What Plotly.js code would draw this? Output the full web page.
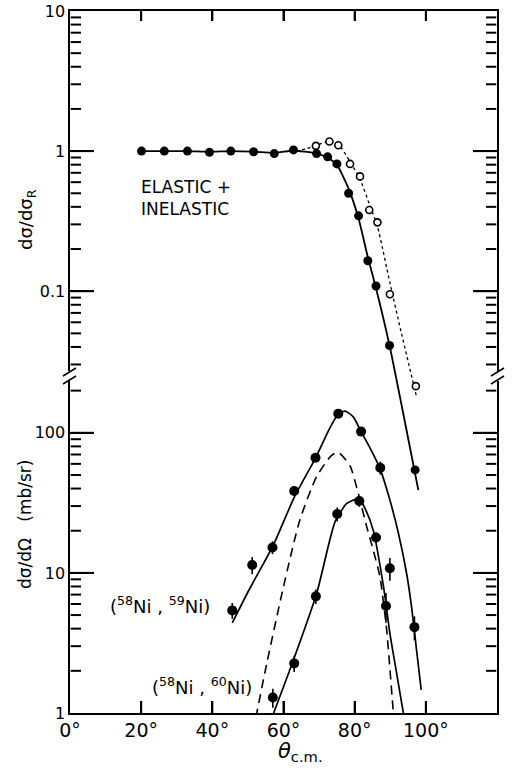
<!DOCTYPE html>
<html>
<head>
<meta charset="utf-8">
<script src="https://cdn.plot.ly/plotly-3.0.1.min.js"></script>
<style>html,body{margin:0;padding:0;background:#fff;}#chart{width:515px;height:769px;}</style>
</head>
<body>
<div id="chart"></div>
<script>
// ---------- data ----------
// Top panel: elastic + inelastic ratio to Rutherford (filled circles, solid curve)
const elasticAngle = [20.1, 26.5, 33.0, 39.2, 45.2, 51.6, 57.4, 62.8, 69.3, 72.4, 75.0, 78.3, 81.1, 83.7, 86.0, 89.8, 97.0];
const elasticRatio = [1.0, 1.0, 1.0, 0.98, 1.0, 0.99, 0.96, 1.02, 0.96, 0.91, 0.81, 0.50, 0.345, 0.165, 0.109, 0.041, 0.0053];
const elasticFitAngle = [20.1, 26.5, 33.0, 39.2, 45.2, 51.6, 57.4, 62.8, 66.0, 69.3, 72.4, 75.0, 78.3, 81.1, 83.7, 86.0, 89.8, 97.9];
const elasticFitRatio = [1.0, 1.0, 1.0, 0.99, 1.0, 0.99, 0.97, 1.01, 0.99, 0.96, 0.90, 0.80, 0.54, 0.33, 0.175, 0.105, 0.041, 0.0038];
// Top panel: open circles with dotted curve
const openAngle = [69.1, 72.9, 75.4, 78.7, 81.5, 84.1, 86.4, 89.9, 97.2];
const openRatio = [1.09, 1.17, 1.10, 0.81, 0.66, 0.38, 0.31, 0.095, 0.021];
const dottedFitAngle = [63.5, 66.5, 69.1, 72.9, 75.4, 78.7, 81.5, 84.1, 86.4, 89.9, 93.0, 97.4];
const dottedFitRatio = [1.00, 1.04, 1.10, 1.17, 1.12, 0.84, 0.63, 0.42, 0.29, 0.115, 0.052, 0.0176];

// Bottom panel: (58Ni,59Ni)
const ni59Angle = [45.6, 51.2, 56.9, 63.0, 69.0, 75.4, 81.8, 87.2, 89.9, 96.8];
const ni59Sigma = [5.4, 11.4, 15.2, 38.4, 66.4, 137, 102, 56.3, 10.8, 4.1];
const ni59Err   = [0.7, 1.6, 1.6, 3, 4, 6, 6, 6, 2.0, 0.8];
const ni59FitAngle = [45.6, 50.6, 57.0, 63.1, 69.0, 73.0, 75.4, 77.3, 79.6, 81.8, 84.3, 87.1, 89.9, 92.3, 94.6, 96.0, 97.4, 98.7];
const ni59FitSigma = [4.4, 7.8, 15.5, 35, 66, 108, 136, 143, 130, 102, 78, 55.7, 33.1, 19.2, 9.9, 5.7, 2.8, 1.46];

// Bottom panel: (58Ni,60Ni)
const ni60Angle = [57.0, 63.0, 69.1, 75.1, 81.3, 86.0, 88.8];
const ni60Sigma = [1.29, 2.26, 6.8, 26.3, 32.6, 17.9, 5.8];
const ni60Err   = [0.2, 0.3, 0.8, 3, 3, 1.5, 1.4];
const ni60FitAngle = [56.9, 62.8, 69.3, 74.5, 77.8, 80.3, 81.5, 83.3, 85.2, 88.1, 89.9, 91.8, 93.7, 94.0];
const ni60FitSigma = [0.95, 2.39, 7.1, 23.2, 31.3, 33.5, 33.1, 27.5, 20.2, 8.0, 3.7, 1.92, 1.0, 0.93];

// Bottom panel: dashed curve
const dashAngle = [52.2, 55.3, 60.0, 64.6, 69.3, 73.5, 75.4, 78.7, 81.0, 83.4, 85.2, 87.1, 89.0, 90.9, 91.1];
const dashSigma = [0.92, 2.26, 7.98, 23.9, 48.6, 69.0, 72.4, 58, 37, 21.3, 14.6, 9.4, 3.9, 1.0, 0.92];

// Axis ticks
const xTickVals = [0, 20, 40, 60, 80, 100, 120];
const xTickText = ['0°', '20°', '40°', '60°', '80°', '100°', '120°'];
const xInnerTicks = [20, 40, 60, 80, 100];
const topMajorTicks = [0.1, 1];
const topMinorTicks = [0.03, 0.04, 0.05, 0.06, 0.07, 0.08, 0.09, 0.2, 0.3, 0.4, 0.5, 0.6, 0.7, 0.8, 0.9, 2, 3, 4, 5, 6, 7, 8, 9];
const botMajorTicks = [10, 100];
const botMinorTicks = [2, 3, 4, 5, 6, 7, 8, 9, 20, 30, 40, 50, 60, 70, 80, 90, 200];

// ---------- layout helpers ----------
const W = 515, H = 769;
const L = 70, R = 497, T = 11, B = 713;
const px = x => (x - L) / (R - L);
const py = y => (B - y) / (B - T);
const FONT = 'DejaVu Sans, Liberation Sans, sans-serif';
const INK = '#000000';

const topBottomPx = 371, botTopPx = 381;
const topDomain = [py(topBottomPx), 1];
const botDomain = [0, py(botTopPx)];
const decadePx = 140.1;
const topRange = [1 - (topBottomPx - T) / decadePx, 1];
const botRange = [0, (B - botTopPx) / decadePx];
const fullRange = [1 - (B - T) / decadePx, 1];
const xRange = [0, 120];
const degPerPx = (xRange[1] - xRange[0]) / (R - L);

// inside tick marks drawn as line segments on the panels' own axes
const tickStyle = {color: INK, width: 2};
function yTickTrace(vals, len, xa, ya) {
  const xs = [], ys = [];
  vals.forEach(v => {
    xs.push(xRange[0] + 0.2, xRange[0] + len * degPerPx, null, xRange[1] - len * degPerPx, xRange[1] - 0.2, null);
    ys.push(v, v, null, v, v, null);
  });
  return {x: xs, y: ys, xaxis: xa, yaxis: ya, type: 'scatter', mode: 'lines',
          line: tickStyle, hoverinfo: 'skip', connectgaps: false, showlegend: false};
}
function xTickTrace(vals, yEdge, yEnd, xa, ya) {
  const xs = [], ys = [];
  vals.forEach(v => { xs.push(v, v, null); ys.push(yEdge, yEnd, null); });
  return {x: xs, y: ys, xaxis: xa, yaxis: ya, type: 'scatter', mode: 'lines',
          line: tickStyle, hoverinfo: 'skip', connectgaps: false, showlegend: false};
}

const traces = [
  // elastic fits & data (drawn on a full-height axis so they can pass the break)
  {x: dottedFitAngle, y: dottedFitRatio, xaxis: 'x', yaxis: 'y3', type: 'scatter', mode: 'lines',
   line: {color: INK, width: 1.3, dash: 'dot', shape: 'spline', smoothing: 0.6}},
  {x: elasticFitAngle, y: elasticFitRatio, xaxis: 'x', yaxis: 'y3', type: 'scatter', mode: 'lines',
   line: {color: INK, width: 1.8, shape: 'spline', smoothing: 0.5}},
  {x: openAngle, y: openRatio, xaxis: 'x', yaxis: 'y3', type: 'scatter', mode: 'markers',
   marker: {symbol: 'circle', size: 7, color: 'white', line: {color: INK, width: 1.6}}},
  {x: elasticAngle, y: elasticRatio, xaxis: 'x', yaxis: 'y3', type: 'scatter', mode: 'markers',
   marker: {symbol: 'circle', size: 9, color: INK}},
  // bottom panel curves
  {x: dashAngle, y: dashSigma, xaxis: 'x', yaxis: 'y', type: 'scatter', mode: 'lines',
   line: {color: INK, width: 1.6, dash: '9px,6px', shape: 'spline', smoothing: 0.6}},
  {x: ni59FitAngle, y: ni59FitSigma, xaxis: 'x', yaxis: 'y', type: 'scatter', mode: 'lines',
   line: {color: INK, width: 1.7, shape: 'spline', smoothing: 0.6}},
  {x: ni60FitAngle, y: ni60FitSigma, xaxis: 'x', yaxis: 'y', type: 'scatter', mode: 'lines',
   line: {color: INK, width: 1.7, shape: 'spline', smoothing: 0.6}},
  {x: ni59Angle, y: ni59Sigma, xaxis: 'x', yaxis: 'y', type: 'scatter', mode: 'markers',
   marker: {symbol: 'circle', size: 10, color: INK},
   error_y: {type: 'data', array: ni59Err, arrayminus: ni59Err, visible: true, color: INK, thickness: 1.6, width: 0}},
  {x: ni60Angle, y: ni60Sigma, xaxis: 'x', yaxis: 'y', type: 'scatter', mode: 'markers',
   marker: {symbol: 'circle', size: 10, color: INK},
   error_y: {type: 'data', array: ni60Err, arrayminus: ni60Err, visible: true, color: INK, thickness: 1.6, width: 0}},
  // tick marks, drawn last so they sit on top
  yTickTrace(botMajorTicks, 24, 'x', 'y'), yTickTrace(botMinorTicks, 11, 'x', 'y'),
  xTickTrace(xInnerTicks, 1, Math.pow(10, 12 / decadePx), 'x', 'y'),
  yTickTrace(topMajorTicks, 24, 'x2', 'y2'), yTickTrace(topMinorTicks, 11, 'x2', 'y2'),
  xTickTrace(xInnerTicks, 10, Math.pow(10, 1 - 10 / decadePx), 'x2', 'y2')
];

const yAxisBase = {
  type: 'log', dtick: 1, ticks: 'inside', ticklen: 24, tickwidth: 2, tickcolor: INK,
  showline: true, linecolor: INK, linewidth: 1.6, mirror: 'allticks',
  showgrid: false, zeroline: false,
  tickfont: {family: FONT, size: 16, color: INK}
};

const breakLine = (x0, y0, x1, y1) => ({type: 'line', xref: 'paper', yref: 'paper',
  x0: px(x0), y0: py(y0), x1: px(x1), y1: py(y1), line: {color: INK, width: 1.6}});

const layout = {
  width: W, height: H,
  margin: {l: L, r: W - R, t: T, b: H - B, pad: 0},
  paper_bgcolor: 'white', plot_bgcolor: 'rgba(0,0,0,0)',
  showlegend: false,
  font: {family: FONT, color: INK},
  xaxis: {
    domain: [0, 1], range: xRange, anchor: 'y',
    tickmode: 'array', tickvals: xTickVals, ticktext: xTickText,
    ticks: 'inside', ticklen: 12, tickwidth: 2, tickcolor: INK,
    showline: true, linecolor: INK, linewidth: 1.6,
    showgrid: false, zeroline: false,
    tickfont: {family: FONT, size: 19, color: INK}
  },
  xaxis2: {
    domain: [0, 1], matches: 'x', anchor: 'y2', side: 'top',
    tickmode: 'array', tickvals: xInnerTicks,
    ticks: 'inside', ticklen: 10, tickwidth: 2, tickcolor: INK,
    showticklabels: false, showline: true, linecolor: INK, linewidth: 1.6,
    showgrid: false, zeroline: false
  },
  yaxis: Object.assign({}, yAxisBase, {domain: botDomain, range: botRange, anchor: 'x'}),
  yaxis2: Object.assign({}, yAxisBase, {domain: topDomain, range: topRange, anchor: 'x2'}),
  yaxis3: {domain: [0, 1], type: 'log', range: fullRange, anchor: 'x', visible: false,
           showgrid: false, zeroline: false},
  shapes: [breakLine(63, 376, 76, 368), breakLine(63, 384, 76, 376),
           breakLine(491, 376, 504, 368), breakLine(491, 384, 504, 376)],
  annotations: [
    {xref: 'paper', yref: 'paper', x: px(139), y: py(198), xanchor: 'left', yanchor: 'middle',
     text: 'ELASTIC +<br>INELASTIC', align: 'left', showarrow: false,
     font: {family: FONT, size: 17, color: INK}},
    {xref: 'paper', yref: 'paper', x: px(108), y: py(605), xanchor: 'left', yanchor: 'middle',
     text: '(<sup>58</sup>Ni , <sup>59</sup>Ni)', showarrow: false,
     font: {family: FONT, size: 18, color: INK}},
    {xref: 'paper', yref: 'paper', x: px(150), y: py(686), xanchor: 'left', yanchor: 'middle',
     text: '(<sup>58</sup>Ni , <sup>60</sup>Ni)', showarrow: false,
     font: {family: FONT, size: 18, color: INK}},
    {xref: 'paper', yref: 'paper', x: px(27), y: py(220), xanchor: 'center', yanchor: 'middle',
     text: 'dσ/dσ<sub>R</sub>', textangle: -90, showarrow: false,
     font: {family: FONT, size: 18, color: INK}},
    {xref: 'paper', yref: 'paper', x: px(25), y: py(525), xanchor: 'center', yanchor: 'middle',
     text: 'dσ/dΩ\u00a0\u00a0\u00a0(mb/sr)', textangle: -90, showarrow: false,
     font: {family: FONT, size: 17, color: INK}},
    {xref: 'paper', yref: 'paper', x: px(300), y: py(752), xanchor: 'center', yanchor: 'middle',
     text: '<i>θ</i><sub>c.m.</sub>', showarrow: false,
     font: {family: FONT, size: 21, color: INK}}
  ]
};

Plotly.newPlot('chart', traces, layout, {staticPlot: true, displayModeBar: false});
</script>
</body>
</html>
